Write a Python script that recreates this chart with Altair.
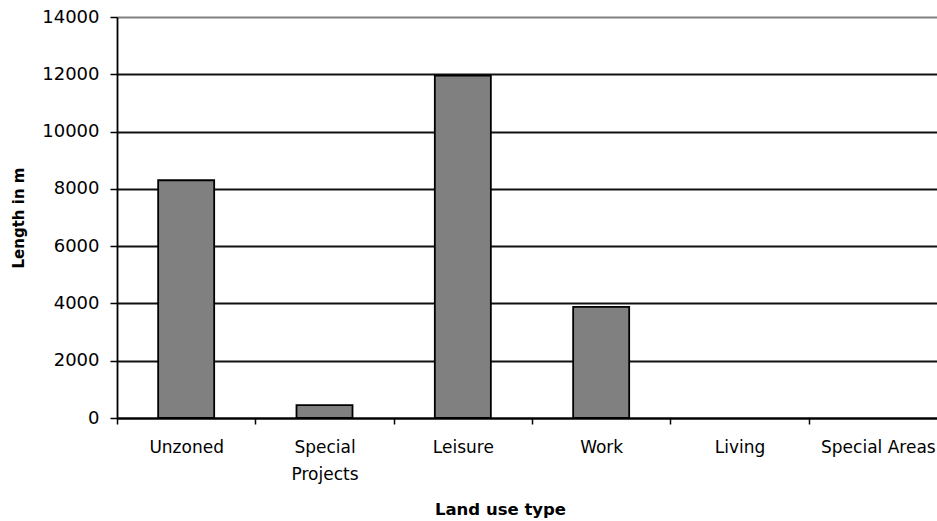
import altair as alt
import pandas as pd

categories = ["Unzoned", "Special Projects", "Leisure", "Work", "Living", "Special Areas"]
lengths = [8300, 450, 11950, 3880, 0, 0]
y_ticks = [0, 2000, 4000, 6000, 8000, 10000, 12000, 14000]

df = pd.DataFrame({"type": categories, "length": lengths})

label_expr = "datum.label == 'Special Projects' ? ['Special', 'Projects'] : datum.label"

chart = alt.Chart(df).transform_filter(
    "datum.length > 0"
).mark_bar(
    color="#808080", stroke="black", strokeWidth=1.8,
    width=alt.RelativeBandSize(0.405)
).encode(
    x=alt.X("type:N", sort=categories,
            scale=alt.Scale(domain=categories, paddingInner=0, paddingOuter=0, range=[0, 830]),
            axis=alt.Axis(title="Land use type", labelAngle=0, labelExpr=label_expr,
                          bandPosition=0, tickBand="extent",
                          labelFont="DejaVu Sans", labelFontSize=17, labelColor="black",
                          labelPadding=15, labelLineHeight=27,
                          titleFont="DejaVu Sans", titleFontSize=16.5, titleFontWeight="bold",
                          titleColor="black", titleX=383, titleY=91,
                          titleBaseline="middle", titleAlign="center",
                          domainColor="black", domainWidth=1.8,
                          tickColor="black", tickWidth=1.5, tickSize=6, grid=False)),
    y=alt.Y("length:Q", scale=alt.Scale(domain=[0, 14000], nice=False),
            axis=alt.Axis(title="Length in m", values=y_ticks, format="d",
                          labelFont="DejaVu Sans", labelFontSize=18, labelColor="black",
                          labelPadding=11,
                          titleFont="DejaVu Sans", titleFontSize=15, titleFontWeight="bold",
                          titleColor="black", titleX=-99, titleY=200.5, titleAngle=270,
                          titleBaseline="middle", titleAlign="center",
                          domainColor="black", domainWidth=1.8,
                          tickColor="black", tickWidth=1.5, tickSize=7,
                          grid=True, gridWidth=1.8,
                          gridColor=alt.ConditionalAxisColor(
                              condition={"test": "datum.value == 14000", "value": "#808080"},
                              value="#111111"))),
).properties(
    width=820, height=401,
    autosize=alt.AutoSizeParams(type="none"),
    padding={"left": 117, "top": 17, "right": 0, "bottom": 103},
).configure_view(stroke=None).configure(background="white")

chart.save("out.html", embed_options={"renderer": "svg", "actions": False})
